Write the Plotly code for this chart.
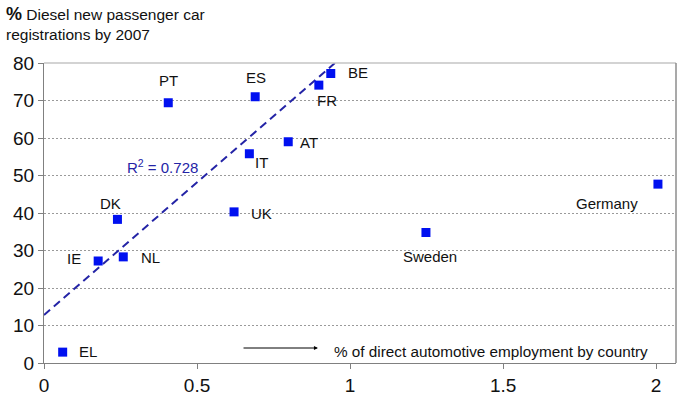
import plotly.graph_objects as go

# ---- data ----
countries = ["PT", "ES", "BE", "FR", "AT", "IT", "UK", "DK", "IE", "NL", "EL", "Sweden", "Germany"]
employment_pct = [0.406, 0.690, 0.937, 0.898, 0.798, 0.671, 0.621, 0.240, 0.177, 0.259, 0.061, 1.248, 2.006]
diesel_pct = [69.4, 71.0, 77.2, 74.1, 59.0, 55.8, 40.3, 38.3, 27.2, 28.3, 2.9, 34.8, 47.7]

# linear trend line as drawn in the reference
trend_intercept = 12.8
trend_slope = 70.7
r_squared_label = "R<sup>2</sup> = 0.728"

x_ticks = [0, 0.5, 1, 1.5, 2]
x_tick_labels = ["0", "0.5", "1", "1.5", "2"]
y_ticks = [0, 10, 20, 30, 40, 50, 60, 70, 80]

# label offsets (px) relative to each point
label_shift = {
    "PT": (0, 22), "ES": (1, 19), "BE": (27, 1), "FR": (8, -15), "AT": (21, -1),
    "IT": (12, -9), "UK": (27, -2), "DK": (-7, 16), "IE": (-24, 3), "NL": (27, -1),
    "EL": (25, 1), "Sweden": (4, -24), "Germany": (-51, -19),
}

X_MAX = 2.065
Y_MAX = 80

FONT = "Liberation Sans, Arial, sans-serif"

fig = go.Figure()

# trend line from x=0 to where it reaches the top of the axis
x_end = (Y_MAX - trend_intercept) / trend_slope
fig.add_trace(go.Scatter(
    x=[0, x_end], y=[trend_intercept, trend_intercept + trend_slope * x_end],
    mode="lines", line=dict(color="#2424A6", width=2, dash="8px,5px"),
    hoverinfo="skip", showlegend=False,
))

fig.add_trace(go.Scatter(
    x=employment_pct, y=diesel_pct, mode="markers",
    marker=dict(symbol="square", size=9, color="#0010F0", line=dict(width=0)),
    text=countries, showlegend=False,
))

annotations = []
for c, xv, yv in zip(countries, employment_pct, diesel_pct):
    dx, dy = label_shift[c]
    annotations.append(dict(
        x=xv, y=yv, xref="x", yref="y", text=c, showarrow=False,
        xshift=dx, yshift=dy, font=dict(family=FONT, size=15, color="#111111"),
    ))

# R^2 label
annotations.append(dict(
    x=0.386, y=52.5, xref="x", yref="y", text=r_squared_label, showarrow=False,
    font=dict(family=FONT, size=15, color="#2424A6"),
))

# arrow + x-axis description
annotations.append(dict(
    x=0.895, y=4.0, ax=0.647, ay=4.0, xref="x", yref="y", axref="x", ayref="y",
    text="", showarrow=True, arrowhead=2, arrowsize=0.8, arrowwidth=1, arrowcolor="#000000",
))
annotations.append(dict(
    x=0.941, y=3.2, xref="x", yref="y", xanchor="left", text="% of direct automotive employment by country",
    showarrow=False, font=dict(family=FONT, size=15.3, color="#111111"),
))

# y-axis title (top-left, two lines)
annotations.append(dict(
    x=0, y=1, xref="paper", yref="paper", xanchor="left", yanchor="top", align="left",
    xshift=-40, yshift=61, showarrow=False,
    text="<b><span style='font-size:18px'>%</span></b> Diesel new passenger car<br>registrations by 2007",
    font=dict(family=FONT, size=15.5, color="#111111"),
))

fig.update_layout(
    width=685, height=410,
    margin=dict(l=44, r=9, t=63, b=47, autoexpand=False),
    paper_bgcolor="white", plot_bgcolor="white",
    annotations=annotations,
    shapes=[
        dict(type="line", xref="paper", yref="paper", x0=0, x1=1, y0=1, y1=1,
             line=dict(color="#C4C4C4", width=1.5)),
        dict(type="line", xref="paper", yref="paper", x0=1, x1=1, y0=0, y1=1,
             line=dict(color="#8C8C8C", width=1.5)),
    ],
)

fig.update_xaxes(
    range=[0, X_MAX], tickvals=x_ticks, ticktext=x_tick_labels,
    showgrid=False, zeroline=False, showline=True, linecolor="#808080", linewidth=1,
    ticks="outside", ticklen=5, tickcolor="#808080",
    tickfont=dict(family=FONT, size=19, color="#111111"),
)
fig.update_yaxes(
    range=[0, Y_MAX], tickvals=y_ticks,
    showgrid=True, gridcolor="#9A9A9A", griddash="2px,2px", gridwidth=1,
    zeroline=False, showline=True, linecolor="#808080", linewidth=1,
    ticks="outside", ticklen=5, tickcolor="#808080",
    tickfont=dict(family=FONT, size=19, color="#111111"),
)

fig.write_html("out.html", config={"displayModeBar": False},
               post_script="document.body.style.margin='0';")
